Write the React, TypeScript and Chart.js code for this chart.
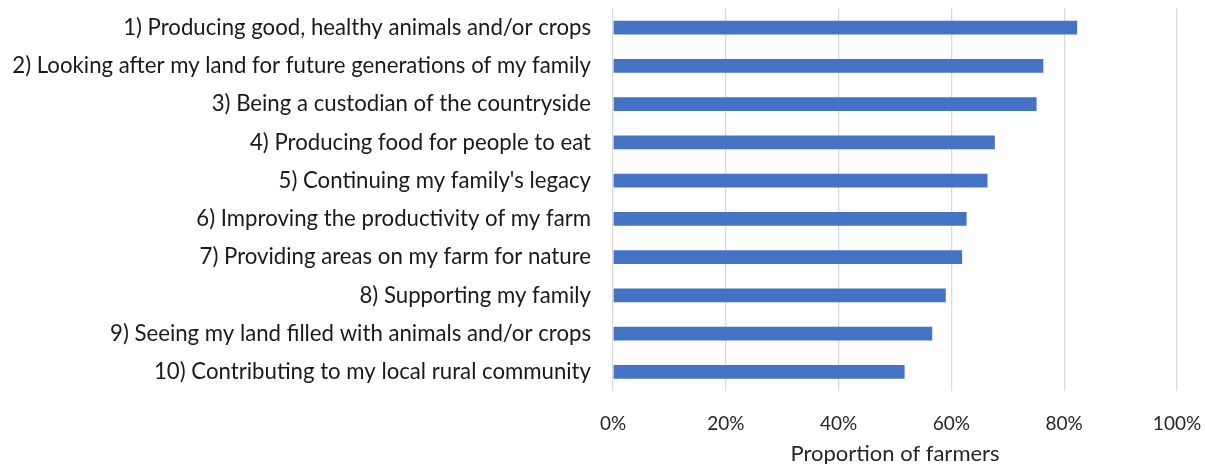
import React, { useEffect, useRef } from "react";
import { Chart, registerables } from "chart.js";

Chart.register(...registerables);

const categories = [
  "1) Producing good, healthy animals and/or crops",
  "2) Looking after my land for future generations of my family",
  "3) Being a custodian of the countryside",
  "4) Producing food for people to eat",
  "5) Continuing my family's legacy",
  "6) Improving the productivity of my farm",
  "7) Providing areas on my farm for nature",
  "8) Supporting my family",
  "9) Seeing my land filled with animals and/or crops",
  "10) Contributing to my local rural community",
];

const proportions = [82.3, 76.3, 75.1, 67.7, 66.4, 62.7, 61.9, 59.0, 56.6, 51.7];

const xTicks = [0, 20, 40, 60, 80, 100];

const axisTitle = "Proportion of farmers";

export default function App() {
  const ref = useRef<HTMLCanvasElement>(null);

  useEffect(() => {
    document.body.style.margin = "0";
    document.body.style.overflow = "hidden";
    const canvas = ref.current;
    if (!canvas) return;
    const font = "Lato, 'Open Sans', sans-serif";
    const chart = new Chart(canvas, {
      type: "bar",
      data: {
        labels: categories,
        datasets: [
          {
            label: axisTitle,
            data: proportions,
            backgroundColor: "#4472C4",
            barPercentage: 0.36,
            categoryPercentage: 1,
          },
        ],
      },
      options: {
        indexAxis: "y",
        responsive: false,
        animation: false,
        layout: { padding: { top: 8.6, right: 28, left: 0, bottom: 0 } },
        plugins: {
          legend: { display: false },
          tooltip: { enabled: false },
        },
        scales: {
          x: {
            min: 0,
            max: 100,
            afterBuildTicks: (axis: any) => {
              axis.ticks = xTicks.map((v) => ({ value: v }));
            },
            afterFit: (axis: any) => {
              axis.paddingLeft = 0;
              axis.paddingRight = 0;
              axis.height = 76;
            },
            ticks: {
              callback: (v: any) => v + "%",
              color: "#262626",
              font: { family: font, size: 19 },
              padding: 21.5,
              maxRotation: 0,
            },
            grid: { color: "#d9d9d9", lineWidth: 1.3, drawTicks: false },
            border: { display: false },
            title: {
              display: true,
              text: axisTitle,
              color: "#262626",
              font: { family: font, size: 22 },
              padding: { top: 5, bottom: 0 },
            },
          },
          y: {
            afterFit: (axis: any) => {
              axis.paddingTop = 0;
              axis.paddingBottom = 0;
              axis.width = 613;
            },
            ticks: {
              color: "#1a1a1a",
              font: { family: font, size: 22.2 },
              padding: 22,
            },
            grid: { display: false, drawTicks: false },
            border: { display: false },
          },
        },
      },
    });
    return () => chart.destroy();
  }, []);

  return (
    <div style={{ width: 1205, height: 464, overflow: "hidden", background: "#fff" }}>
      <canvas ref={ref} width={1205} height={467} />
    </div>
  );
}
